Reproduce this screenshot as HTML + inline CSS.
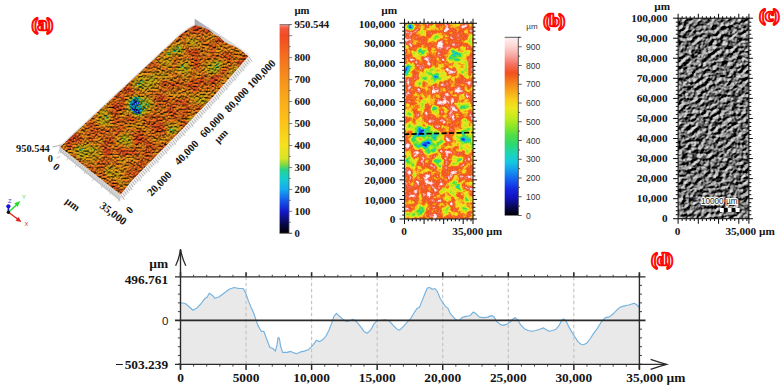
<!DOCTYPE html>
<html><head><meta charset="utf-8"><title>figure</title>
<style>
html,body{margin:0;padding:0;background:#fff;}
svg{display:block}
text{font-family:"Liberation Serif",serif;font-weight:bold;fill:#141414}
.sn{font-family:"Liberation Sans",sans-serif;font-weight:normal;fill:#333}
.lab{font-family:"Liberation Serif",serif;font-weight:bold;fill:#f00;stroke:#f00;stroke-width:2.6px;stroke-linejoin:round}
.lab2{font-family:"Liberation Serif",serif;font-weight:bold;fill:#fff;stroke:#f00;stroke-width:1.1px;stroke-linejoin:round}
</style></head><body>
<svg width="782" height="388" viewBox="0 0 782 388">
<rect x="0" y="0" width="782" height="388" fill="#fff"/>
<defs>
<linearGradient id="ga" x1="0" y1="0" x2="0" y2="1"><stop offset="0.0000" stop-color="rgb(250,150,140)"/><stop offset="0.0164" stop-color="rgb(244,90,60)"/><stop offset="0.0532" stop-color="rgb(243,74,32)"/><stop offset="0.1584" stop-color="rgb(245,112,30)"/><stop offset="0.2636" stop-color="rgb(247,145,28)"/><stop offset="0.3688" stop-color="rgb(250,172,26)"/><stop offset="0.4740" stop-color="rgb(252,196,25)"/><stop offset="0.5792" stop-color="rgb(245,225,28)"/><stop offset="0.6423" stop-color="rgb(215,228,38)"/><stop offset="0.6739" stop-color="rgb(120,215,70)"/><stop offset="0.6949" stop-color="rgb(40,210,140)"/><stop offset="0.7370" stop-color="rgb(20,205,205)"/><stop offset="0.7896" stop-color="rgb(20,170,240)"/><stop offset="0.8422" stop-color="rgb(20,90,235)"/><stop offset="0.8948" stop-color="rgb(20,25,205)"/><stop offset="0.9474" stop-color="rgb(10,10,90)"/><stop offset="1.0000" stop-color="rgb(0,0,0)"/></linearGradient>
<linearGradient id="gb" x1="0" y1="0" x2="0" y2="1"><stop offset="0.000" stop-color="rgb(255,240,240)"/><stop offset="0.050" stop-color="rgb(252,215,212)"/><stop offset="0.100" stop-color="rgb(248,170,165)"/><stop offset="0.150" stop-color="rgb(245,115,100)"/><stop offset="0.200" stop-color="rgb(242,80,30)"/><stop offset="0.250" stop-color="rgb(245,125,28)"/><stop offset="0.300" stop-color="rgb(247,165,28)"/><stop offset="0.350" stop-color="rgb(248,205,28)"/><stop offset="0.400" stop-color="rgb(235,232,30)"/><stop offset="0.450" stop-color="rgb(195,235,30)"/><stop offset="0.500" stop-color="rgb(140,230,40)"/><stop offset="0.550" stop-color="rgb(80,222,70)"/><stop offset="0.600" stop-color="rgb(45,216,110)"/><stop offset="0.650" stop-color="rgb(28,212,180)"/><stop offset="0.700" stop-color="rgb(22,200,225)"/><stop offset="0.750" stop-color="rgb(20,150,240)"/><stop offset="0.800" stop-color="rgb(20,95,238)"/><stop offset="0.850" stop-color="rgb(20,40,225)"/><stop offset="0.900" stop-color="rgb(18,18,190)"/><stop offset="0.950" stop-color="rgb(10,10,90)"/><stop offset="1.000" stop-color="rgb(0,0,0)"/></linearGradient>
<filter id="fa" filterUnits="userSpaceOnUse" x="50" y="5" width="210" height="205" color-interpolation-filters="sRGB">
<feTurbulence type="fractalNoise" baseFrequency="0.62" numOctaves="2" seed="7" result="n"/>
<feColorMatrix in="n" type="matrix" values="1 0 0 0 0  1 0 0 0 0  1 0 0 0 0  0 0 0 0 1" result="ng"/>
<feTurbulence type="fractalNoise" baseFrequency="0.09" numOctaves="2" seed="23" result="m"/>
<feColorMatrix in="m" type="matrix" values="1 0 0 0 0  1 0 0 0 0  1 0 0 0 0  0 0 0 0 1" result="mg"/>
<feComposite in="SourceGraphic" in2="ng" operator="arithmetic" k1="0" k2="1" k3="0.5" k4="-0.25" result="h0"/>
<feComposite in="h0" in2="mg" operator="arithmetic" k1="0" k2="1" k3="0.56" k4="-0.28" result="h"/>
<feComponentTransfer in="h" result="col">
<feFuncR type="table" tableValues="0.000 0.016 0.032 0.049 0.065 0.068 0.068 0.068 0.068 0.068 0.068 0.088 0.112 0.345 0.572 0.665 0.701 0.731 0.736 0.741 0.746 0.751 0.750 0.748 0.855 0.853 0.851 0.849 0.846 0.844 0.842 0.840 0.839 0.837 0.835 0.834 0.832 0.830 0.819 0.819 0.819"/><feFuncG type="table" tableValues="0.000 0.016 0.032 0.056 0.080 0.169 0.274 0.396 0.526 0.613 0.670 0.704 0.624 0.640 0.670 0.677 0.674 0.667 0.647 0.626 0.606 0.585 0.568 0.551 0.611 0.592 0.570 0.548 0.527 0.505 0.480 0.453 0.427 0.400 0.372 0.341 0.310 0.279 0.259 0.259 0.259"/><feFuncB type="table" tableValues="0.000 0.146 0.292 0.474 0.661 0.738 0.787 0.807 0.815 0.786 0.729 0.636 0.441 0.220 0.136 0.105 0.093 0.083 0.081 0.079 0.077 0.075 0.075 0.076 0.088 0.089 0.090 0.092 0.093 0.095 0.096 0.098 0.100 0.101 0.103 0.105 0.106 0.108 0.109 0.109 0.109"/>
</feComponentTransfer>
<feColorMatrix in="n" type="matrix" values="0 0 0 0 0  0 0 0 0 0  0 0 0 0 0  1 0 0 0 0" result="na"/>
<feDiffuseLighting in="na" surfaceScale="3.8" diffuseConstant="1.0" lighting-color="#fff" result="lit"><feDistantLight azimuth="260" elevation="50"/></feDiffuseLighting>
<feComposite in="col" in2="lit" operator="arithmetic" k1="0.98" k2="0.14" k3="0" k4="0" result="sh"/>
<feGaussianBlur in="sh" stdDeviation="0.45"/>
</filter>
<filter id="fb" filterUnits="userSpaceOnUse" x="400" y="20" width="80" height="205" color-interpolation-filters="sRGB">
<feTurbulence type="fractalNoise" baseFrequency="0.16" numOctaves="4" seed="11" result="n"/>
<feColorMatrix in="n" type="matrix" values="1 0 0 0 0  1 0 0 0 0  1 0 0 0 0  0 0 0 0 1" result="ng"/>
<feComposite in="SourceGraphic" in2="ng" operator="arithmetic" k1="0" k2="1" k3="0.74" k4="-0.37" result="h"/>
<feComponentTransfer in="h">
<feFuncR type="table" tableValues="0.000 0.022 0.042 0.060 0.072 0.076 0.078 0.078 0.078 0.078 0.082 0.087 0.100 0.119 0.155 0.208 0.284 0.392 0.521 0.625 0.716 0.795 0.861 0.923 0.945 0.966 0.971 0.969 0.964 0.958 0.956 0.953 0.950 0.951 0.954 0.957 0.964 0.972 0.982 0.992 1.000"/><feFuncG type="table" tableValues="0.000 0.022 0.042 0.060 0.087 0.135 0.220 0.339 0.457 0.575 0.684 0.786 0.812 0.833 0.842 0.853 0.865 0.881 0.898 0.909 0.917 0.919 0.914 0.906 0.862 0.817 0.757 0.665 0.555 0.455 0.412 0.368 0.325 0.339 0.373 0.407 0.509 0.656 0.778 0.873 0.940"/><feFuncB type="table" tableValues="0.000 0.194 0.391 0.607 0.772 0.847 0.897 0.925 0.936 0.941 0.912 0.876 0.779 0.669 0.518 0.395 0.309 0.236 0.171 0.143 0.127 0.118 0.118 0.117 0.114 0.111 0.110 0.110 0.110 0.111 0.113 0.115 0.117 0.168 0.236 0.304 0.461 0.634 0.763 0.865 0.940"/>
</feComponentTransfer>
</filter>
<filter id="fc" filterUnits="userSpaceOnUse" x="675" y="15" width="80" height="208" color-interpolation-filters="sRGB">
<feTurbulence type="fractalNoise" baseFrequency="0.2 0.25" numOctaves="4" seed="5" result="n"/>
<feDiffuseLighting in="n" surfaceScale="3.4" diffuseConstant="0.9" lighting-color="#fff" result="lit"><feDistantLight azimuth="225" elevation="31"/></feDiffuseLighting>
<feGaussianBlur in="lit" stdDeviation="0.4" result="lb"/>
<feComposite in="lb" in2="SourceGraphic" operator="in"/>
</filter>
<filter id="blur3" x="-50%" y="-50%" width="200%" height="200%"><feGaussianBlur stdDeviation="2.2"/></filter>
<filter id="blur2" x="-50%" y="-50%" width="200%" height="200%"><feGaussianBlur stdDeviation="1.5"/></filter>
<clipPath id="cpa"><polygon points="60,147 180,35 189,28.4 194.9,25.2 201,26.6 209,30 214,34.2 219.5,37 224,41.5 228.7,44 234,46 240,49.5 248.4,56.3 214,95.7 186.2,125.1 160,152 131.5,181 120.6,194.5"/></clipPath>
<clipPath id="cpb"><rect x="404.5" y="23.3" width="68.5" height="195.7"/></clipPath>
<clipPath id="cpc"><rect x="678.1" y="18.2" width="70.8" height="200.5"/></clipPath>
</defs>
<!-- panel a -->
<linearGradient id="gw" gradientUnits="userSpaceOnUse" x1="195" y1="22" x2="245" y2="54"><stop offset="0" stop-color="#a4a8b0"/><stop offset="0.45" stop-color="#cfd0d4"/><stop offset="1" stop-color="#ececec"/></linearGradient>
<polygon points="194.7,18.8 249.6,53.7 249.6,60 194.7,27" fill="url(#gw)"/>
<polyline points="59.5,146.5 180,34.3 189,27.7 194.8,24.6" fill="none" stroke="#d4d4d4" stroke-width="0.9"/>
<polygon points="60,143 120.6,193 120,200.8 60.5,151.8" fill="#dadada"/>
<polygon points="60.5,150.6 120,199.3 120,200.9 60.5,152" fill="#c6c6c6"/>
<polygon points="120.6,193 131.5,180 160,151 186.2,124.1 214,94.7 248.4,55.3 251,62.5 217.5,100 189.7,129.2 163.5,156 135,185 120,201.8" fill="#efefef"/>
<g clip-path="url(#cpa)"><g filter="url(#fa)">
<rect x="50" y="5" width="210" height="205" fill="rgb(205,205,205)"/>
<ellipse cx="139" cy="106" rx="13" ry="11" fill="rgb(107,107,107)" filter="url(#blur3)"/>
<ellipse cx="88" cy="152" rx="16" ry="9" fill="rgb(140,140,140)" filter="url(#blur3)"/>
<ellipse cx="103" cy="118" rx="9" ry="7" fill="rgb(117,117,117)" filter="url(#blur3)"/>
<ellipse cx="146" cy="83" rx="12" ry="8" fill="rgb(115,115,115)" filter="url(#blur3)"/>
<ellipse cx="184" cy="70" rx="9" ry="7" fill="rgb(115,115,115)" filter="url(#blur3)"/>
<ellipse cx="178" cy="49" rx="8" ry="6" fill="rgb(117,117,117)" filter="url(#blur3)"/>
<ellipse cx="194" cy="43.5" rx="7" ry="5" fill="rgb(122,122,122)" filter="url(#blur3)"/>
<ellipse cx="214" cy="66" rx="9" ry="7" fill="rgb(112,112,112)" filter="url(#blur3)"/>
<ellipse cx="165" cy="61" rx="8" ry="6" fill="rgb(117,117,117)" filter="url(#blur3)"/>
<ellipse cx="160" cy="77" rx="7" ry="5" fill="rgb(122,122,122)" filter="url(#blur3)"/>
<ellipse cx="172" cy="128" rx="7" ry="6" fill="rgb(112,112,112)" filter="url(#blur3)"/>
<ellipse cx="115" cy="172" rx="10" ry="7" fill="rgb(122,122,122)" filter="url(#blur3)"/>
<ellipse cx="236" cy="72" rx="7" ry="6" fill="rgb(117,117,117)" filter="url(#blur3)"/>
<ellipse cx="200" cy="100" rx="8" ry="6" fill="rgb(128,128,128)" filter="url(#blur3)"/>
<ellipse cx="125" cy="140" rx="9" ry="6" fill="rgb(128,128,128)" filter="url(#blur3)"/>
<ellipse cx="137" cy="106" rx="8" ry="9" fill="rgb(76,76,76)" filter="url(#blur3)"/>
<ellipse cx="136.8" cy="101.2" rx="4.6" ry="3.8" fill="rgb(33,33,33)" filter="url(#blur2)"/>
<ellipse cx="135.3" cy="111.3" rx="3.8" ry="3.2" fill="rgb(33,33,33)" filter="url(#blur2)"/>
<ellipse cx="172.5" cy="129.6" rx="2.6" ry="2.2" fill="rgb(76,76,76)" filter="url(#blur2)"/>
<ellipse cx="168" cy="53.8" rx="2.6" ry="2.2" fill="rgb(76,76,76)" filter="url(#blur2)"/>
<ellipse cx="186" cy="70.6" rx="2.6" ry="2.2" fill="rgb(76,76,76)" filter="url(#blur2)"/>
<ellipse cx="214.4" cy="71.9" rx="2.6" ry="2.2" fill="rgb(76,76,76)" filter="url(#blur2)"/>
<ellipse cx="190" cy="120" rx="2.6" ry="2.2" fill="rgb(82,82,82)" filter="url(#blur2)"/>
</g></g>
<line x1="121.2" y1="195.2" x2="124.4" y2="199.7" stroke="#9c9c9c" stroke-width="0.75"/>
<line x1="122.8" y1="193.2" x2="125.2" y2="196.7" stroke="#9c9c9c" stroke-width="0.75"/>
<line x1="124.4" y1="191.3" x2="126.8" y2="194.7" stroke="#9c9c9c" stroke-width="0.75"/>
<line x1="125.9" y1="189.3" x2="128.4" y2="192.8" stroke="#9c9c9c" stroke-width="0.75"/>
<line x1="127.5" y1="187.4" x2="129.9" y2="190.8" stroke="#9c9c9c" stroke-width="0.75"/>
<line x1="129.1" y1="185.4" x2="132.3" y2="190.0" stroke="#9c9c9c" stroke-width="0.75"/>
<line x1="130.7" y1="183.5" x2="133.1" y2="186.9" stroke="#9c9c9c" stroke-width="0.75"/>
<line x1="132.3" y1="181.5" x2="134.7" y2="185.0" stroke="#9c9c9c" stroke-width="0.75"/>
<line x1="134.0" y1="179.7" x2="136.4" y2="183.2" stroke="#9c9c9c" stroke-width="0.75"/>
<line x1="135.8" y1="178.0" x2="138.2" y2="181.4" stroke="#9c9c9c" stroke-width="0.75"/>
<line x1="137.5" y1="176.2" x2="140.7" y2="180.7" stroke="#9c9c9c" stroke-width="0.75"/>
<line x1="139.3" y1="174.4" x2="141.7" y2="177.8" stroke="#9c9c9c" stroke-width="0.75"/>
<line x1="141.1" y1="172.6" x2="143.5" y2="176.0" stroke="#9c9c9c" stroke-width="0.75"/>
<line x1="142.8" y1="170.8" x2="145.2" y2="174.2" stroke="#9c9c9c" stroke-width="0.75"/>
<line x1="144.6" y1="169.0" x2="147.0" y2="172.4" stroke="#9c9c9c" stroke-width="0.75"/>
<line x1="146.3" y1="167.2" x2="149.5" y2="171.7" stroke="#9c9c9c" stroke-width="0.75"/>
<line x1="148.1" y1="165.4" x2="150.5" y2="168.9" stroke="#9c9c9c" stroke-width="0.75"/>
<line x1="149.9" y1="163.6" x2="152.3" y2="167.1" stroke="#9c9c9c" stroke-width="0.75"/>
<line x1="151.6" y1="161.8" x2="154.0" y2="165.3" stroke="#9c9c9c" stroke-width="0.75"/>
<line x1="153.4" y1="160.0" x2="155.8" y2="163.5" stroke="#9c9c9c" stroke-width="0.75"/>
<line x1="155.1" y1="158.3" x2="158.3" y2="162.8" stroke="#9c9c9c" stroke-width="0.75"/>
<line x1="156.9" y1="156.5" x2="159.3" y2="159.9" stroke="#9c9c9c" stroke-width="0.75"/>
<line x1="158.7" y1="154.7" x2="161.1" y2="158.1" stroke="#9c9c9c" stroke-width="0.75"/>
<line x1="160.4" y1="152.9" x2="162.8" y2="156.3" stroke="#9c9c9c" stroke-width="0.75"/>
<line x1="162.2" y1="151.1" x2="164.6" y2="154.5" stroke="#9c9c9c" stroke-width="0.75"/>
<line x1="163.9" y1="149.3" x2="167.1" y2="153.8" stroke="#9c9c9c" stroke-width="0.75"/>
<line x1="165.7" y1="147.5" x2="168.1" y2="150.9" stroke="#9c9c9c" stroke-width="0.75"/>
<line x1="167.4" y1="145.7" x2="169.8" y2="149.1" stroke="#9c9c9c" stroke-width="0.75"/>
<line x1="169.2" y1="143.9" x2="171.6" y2="147.3" stroke="#9c9c9c" stroke-width="0.75"/>
<line x1="170.9" y1="142.1" x2="173.4" y2="145.5" stroke="#9c9c9c" stroke-width="0.75"/>
<line x1="172.7" y1="140.3" x2="175.9" y2="144.8" stroke="#9c9c9c" stroke-width="0.75"/>
<line x1="174.4" y1="138.5" x2="176.9" y2="141.9" stroke="#9c9c9c" stroke-width="0.75"/>
<line x1="176.2" y1="136.7" x2="178.6" y2="140.1" stroke="#9c9c9c" stroke-width="0.75"/>
<line x1="177.9" y1="134.9" x2="180.4" y2="138.3" stroke="#9c9c9c" stroke-width="0.75"/>
<line x1="179.7" y1="133.1" x2="182.1" y2="136.5" stroke="#9c9c9c" stroke-width="0.75"/>
<line x1="181.4" y1="131.3" x2="184.6" y2="135.8" stroke="#9c9c9c" stroke-width="0.75"/>
<line x1="183.2" y1="129.5" x2="185.6" y2="132.9" stroke="#9c9c9c" stroke-width="0.75"/>
<line x1="184.9" y1="127.7" x2="187.4" y2="131.1" stroke="#9c9c9c" stroke-width="0.75"/>
<line x1="186.7" y1="125.9" x2="189.1" y2="129.3" stroke="#9c9c9c" stroke-width="0.75"/>
<line x1="188.4" y1="124.1" x2="190.8" y2="127.5" stroke="#9c9c9c" stroke-width="0.75"/>
<line x1="190.2" y1="122.3" x2="193.3" y2="126.8" stroke="#9c9c9c" stroke-width="0.75"/>
<line x1="191.9" y1="120.4" x2="194.3" y2="123.9" stroke="#9c9c9c" stroke-width="0.75"/>
<line x1="193.6" y1="118.6" x2="196.0" y2="122.0" stroke="#9c9c9c" stroke-width="0.75"/>
<line x1="195.3" y1="116.8" x2="197.7" y2="120.2" stroke="#9c9c9c" stroke-width="0.75"/>
<line x1="197.1" y1="115.0" x2="199.5" y2="118.4" stroke="#9c9c9c" stroke-width="0.75"/>
<line x1="198.8" y1="113.1" x2="202.0" y2="117.7" stroke="#9c9c9c" stroke-width="0.75"/>
<line x1="200.5" y1="111.3" x2="202.9" y2="114.7" stroke="#9c9c9c" stroke-width="0.75"/>
<line x1="202.2" y1="109.5" x2="204.6" y2="112.9" stroke="#9c9c9c" stroke-width="0.75"/>
<line x1="204.0" y1="107.7" x2="206.4" y2="111.1" stroke="#9c9c9c" stroke-width="0.75"/>
<line x1="205.7" y1="105.8" x2="208.1" y2="109.3" stroke="#9c9c9c" stroke-width="0.75"/>
<line x1="207.4" y1="104.0" x2="210.6" y2="108.5" stroke="#9c9c9c" stroke-width="0.75"/>
<line x1="209.1" y1="102.2" x2="211.6" y2="105.6" stroke="#9c9c9c" stroke-width="0.75"/>
<line x1="210.9" y1="100.4" x2="213.3" y2="103.8" stroke="#9c9c9c" stroke-width="0.75"/>
<line x1="212.6" y1="98.5" x2="215.0" y2="102.0" stroke="#9c9c9c" stroke-width="0.75"/>
<line x1="214.3" y1="96.7" x2="216.7" y2="100.1" stroke="#9c9c9c" stroke-width="0.75"/>
<line x1="216.0" y1="94.8" x2="219.2" y2="99.4" stroke="#9c9c9c" stroke-width="0.75"/>
<line x1="217.6" y1="92.9" x2="220.0" y2="96.4" stroke="#9c9c9c" stroke-width="0.75"/>
<line x1="219.3" y1="91.0" x2="221.7" y2="94.5" stroke="#9c9c9c" stroke-width="0.75"/>
<line x1="220.9" y1="89.2" x2="223.3" y2="92.6" stroke="#9c9c9c" stroke-width="0.75"/>
<line x1="222.6" y1="87.3" x2="225.0" y2="90.7" stroke="#9c9c9c" stroke-width="0.75"/>
<line x1="224.2" y1="85.4" x2="227.4" y2="89.9" stroke="#9c9c9c" stroke-width="0.75"/>
<line x1="225.9" y1="83.5" x2="228.3" y2="86.9" stroke="#9c9c9c" stroke-width="0.75"/>
<line x1="227.5" y1="81.6" x2="230.0" y2="85.0" stroke="#9c9c9c" stroke-width="0.75"/>
<line x1="229.2" y1="79.7" x2="231.6" y2="83.1" stroke="#9c9c9c" stroke-width="0.75"/>
<line x1="230.8" y1="77.8" x2="233.3" y2="81.2" stroke="#9c9c9c" stroke-width="0.75"/>
<line x1="232.5" y1="75.9" x2="235.7" y2="80.4" stroke="#9c9c9c" stroke-width="0.75"/>
<line x1="234.1" y1="74.0" x2="236.6" y2="77.5" stroke="#9c9c9c" stroke-width="0.75"/>
<line x1="235.8" y1="72.1" x2="238.2" y2="75.6" stroke="#9c9c9c" stroke-width="0.75"/>
<line x1="237.4" y1="70.2" x2="239.9" y2="73.7" stroke="#9c9c9c" stroke-width="0.75"/>
<line x1="239.1" y1="68.3" x2="241.5" y2="71.8" stroke="#9c9c9c" stroke-width="0.75"/>
<line x1="240.7" y1="66.5" x2="243.9" y2="71.0" stroke="#9c9c9c" stroke-width="0.75"/>
<line x1="242.4" y1="64.6" x2="244.8" y2="68.0" stroke="#9c9c9c" stroke-width="0.75"/>
<line x1="244.0" y1="62.7" x2="246.5" y2="66.1" stroke="#9c9c9c" stroke-width="0.75"/>
<line x1="245.7" y1="60.8" x2="248.1" y2="64.2" stroke="#9c9c9c" stroke-width="0.75"/>
<line x1="247.3" y1="58.9" x2="249.8" y2="62.3" stroke="#9c9c9c" stroke-width="0.75"/>
<line x1="249.0" y1="57.0" x2="252.2" y2="61.5" stroke="#9c9c9c" stroke-width="0.75"/>
<line x1="60.5" y1="148.0" x2="58.2" y2="153.5" stroke="#b5b5b5" stroke-width="0.7"/>
<line x1="62.2" y1="149.4" x2="60.8" y2="152.8" stroke="#b5b5b5" stroke-width="0.7"/>
<line x1="63.9" y1="150.7" x2="62.5" y2="154.1" stroke="#b5b5b5" stroke-width="0.7"/>
<line x1="65.7" y1="152.1" x2="64.3" y2="155.5" stroke="#b5b5b5" stroke-width="0.7"/>
<line x1="67.4" y1="153.5" x2="66.0" y2="156.9" stroke="#b5b5b5" stroke-width="0.7"/>
<line x1="69.1" y1="154.9" x2="66.8" y2="160.4" stroke="#b5b5b5" stroke-width="0.7"/>
<line x1="70.8" y1="156.2" x2="69.4" y2="159.6" stroke="#b5b5b5" stroke-width="0.7"/>
<line x1="72.5" y1="157.6" x2="71.1" y2="161.0" stroke="#b5b5b5" stroke-width="0.7"/>
<line x1="74.2" y1="159.0" x2="72.8" y2="162.4" stroke="#b5b5b5" stroke-width="0.7"/>
<line x1="76.0" y1="160.3" x2="74.6" y2="163.7" stroke="#b5b5b5" stroke-width="0.7"/>
<line x1="77.7" y1="161.7" x2="75.4" y2="167.2" stroke="#b5b5b5" stroke-width="0.7"/>
<line x1="79.4" y1="163.1" x2="78.0" y2="166.5" stroke="#b5b5b5" stroke-width="0.7"/>
<line x1="81.1" y1="164.5" x2="79.7" y2="167.9" stroke="#b5b5b5" stroke-width="0.7"/>
<line x1="82.8" y1="165.8" x2="81.4" y2="169.2" stroke="#b5b5b5" stroke-width="0.7"/>
<line x1="84.5" y1="167.2" x2="83.1" y2="170.6" stroke="#b5b5b5" stroke-width="0.7"/>
<line x1="86.3" y1="168.6" x2="84.0" y2="174.1" stroke="#b5b5b5" stroke-width="0.7"/>
<line x1="88.0" y1="169.9" x2="86.6" y2="173.3" stroke="#b5b5b5" stroke-width="0.7"/>
<line x1="89.7" y1="171.3" x2="88.3" y2="174.7" stroke="#b5b5b5" stroke-width="0.7"/>
<line x1="91.4" y1="172.7" x2="90.0" y2="176.1" stroke="#b5b5b5" stroke-width="0.7"/>
<line x1="93.1" y1="174.1" x2="91.7" y2="177.5" stroke="#b5b5b5" stroke-width="0.7"/>
<line x1="94.8" y1="175.4" x2="92.6" y2="181.0" stroke="#b5b5b5" stroke-width="0.7"/>
<line x1="96.6" y1="176.8" x2="95.2" y2="180.2" stroke="#b5b5b5" stroke-width="0.7"/>
<line x1="98.3" y1="178.2" x2="96.9" y2="181.6" stroke="#b5b5b5" stroke-width="0.7"/>
<line x1="100.0" y1="179.5" x2="98.6" y2="182.9" stroke="#b5b5b5" stroke-width="0.7"/>
<line x1="101.7" y1="180.9" x2="100.3" y2="184.3" stroke="#b5b5b5" stroke-width="0.7"/>
<line x1="103.4" y1="182.3" x2="101.2" y2="187.8" stroke="#b5b5b5" stroke-width="0.7"/>
<line x1="105.1" y1="183.7" x2="103.7" y2="187.1" stroke="#b5b5b5" stroke-width="0.7"/>
<line x1="106.9" y1="185.0" x2="105.5" y2="188.4" stroke="#b5b5b5" stroke-width="0.7"/>
<line x1="108.6" y1="186.4" x2="107.2" y2="189.8" stroke="#b5b5b5" stroke-width="0.7"/>
<line x1="110.3" y1="187.8" x2="108.9" y2="191.2" stroke="#b5b5b5" stroke-width="0.7"/>
<line x1="112.0" y1="189.1" x2="109.7" y2="194.7" stroke="#b5b5b5" stroke-width="0.7"/>
<line x1="113.7" y1="190.5" x2="112.3" y2="193.9" stroke="#b5b5b5" stroke-width="0.7"/>
<line x1="115.4" y1="191.9" x2="114.0" y2="195.3" stroke="#b5b5b5" stroke-width="0.7"/>
<line x1="117.2" y1="193.3" x2="115.8" y2="196.7" stroke="#b5b5b5" stroke-width="0.7"/>
<line x1="118.9" y1="194.6" x2="117.5" y2="198.0" stroke="#b5b5b5" stroke-width="0.7"/>
<line x1="120.6" y1="196.0" x2="118.3" y2="201.5" stroke="#b5b5b5" stroke-width="0.7"/>
<line x1="52.3" y1="147" x2="60" y2="145.2" stroke="#a0a0a0" stroke-width="0.8"/>
<line x1="56.6" y1="158.2" x2="60.3" y2="156.4" stroke="#b0b0b0" stroke-width="0.8"/>
<line x1="60" y1="144.6" x2="60.3" y2="153.4" stroke="#b8b8b8" stroke-width="0.9"/>
<text x="49.8" y="152.2" font-size="10.4" text-anchor="end">950.544</text>
<text x="50.3" y="162.4" font-size="10.4" text-anchor="middle">0</text>
<text x="0" y="0" font-size="10.4" text-anchor="middle" transform="translate(56.4,166.6) rotate(40)" dy="0.34em" >0</text>
<text x="0" y="0" font-size="10.6" text-anchor="middle" transform="translate(72.7,204.2) rotate(37)" dy="0.34em" >&#181;m</text>
<text x="0" y="0" font-size="11" text-anchor="middle" transform="translate(113.4,213.4) rotate(37)" dy="0.34em" >35,000</text>
<text x="0" y="0" font-size="10.4" text-anchor="middle" transform="translate(129.5,209.9) rotate(-46)" dy="0.34em" >0</text>
<text x="0" y="0" font-size="10.8" text-anchor="middle" transform="translate(159.2,183.6) rotate(-46)" dy="0.34em" >20,000</text>
<text x="0" y="0" font-size="10.8" text-anchor="middle" transform="translate(186.4,152.6) rotate(-46)" dy="0.34em" >40,000</text>
<text x="0" y="0" font-size="10.8" text-anchor="middle" transform="translate(212,125) rotate(-46)" dy="0.34em" >60,000</text>
<text x="0" y="0" font-size="10.4" text-anchor="middle" transform="translate(221,136) rotate(-46)" dy="0.34em" >&#181;m</text>
<text x="0" y="0" font-size="10.8" text-anchor="middle" transform="translate(236.6,99.7) rotate(-46)" dy="0.34em" >80,000</text>
<text x="0" y="0" font-size="10.8" text-anchor="middle" transform="translate(261.3,73.8) rotate(-46)" dy="0.34em" >100,000</text>
<g stroke-linecap="round">
<line x1="8.4" y1="212.3" x2="8.4" y2="206.3" stroke="#1414e0" stroke-width="1.6"/>
<line x1="8.4" y1="212.3" x2="17" y2="204.5" stroke="#22dd22" stroke-width="1.4"/>
<polygon points="20.3,200.9 14.3,203.2 17.6,206.8" fill="#22dd22"/>
<line x1="8.4" y1="212.3" x2="18" y2="219.2" stroke="#e02020" stroke-width="1.4"/>
<polygon points="21.6,221.9 15.6,220.8 18.4,216.9" fill="#e02020"/>
<circle cx="8.4" cy="206.3" r="2.1" fill="#1414e0"/>
<circle cx="8.4" cy="212.3" r="1.7" fill="#101018"/>
</g>
<text class="sn" x="7.9" y="202.6" font-size="5.8" style="fill:#5040c0">Z</text>
<text class="sn" x="21.9" y="199.3" font-size="5.8" style="fill:#44cc44">Y</text>
<text class="sn" x="24.5" y="226.4" font-size="5.8" style="fill:#d03040">X</text>
<rect x="279.6" y="24.6" width="9.4" height="208.7" fill="url(#ga)"/>
<g stroke="#555" stroke-width="0.75" fill="none">
<line x1="289" y1="24.6" x2="289" y2="233.3"/>
<line x1="279.6" y1="24.6" x2="292" y2="24.6"/>
<line x1="279.6" y1="233.3" x2="292" y2="233.3"/>
<line x1="289" y1="233.30" x2="292.2" y2="233.30"/>
<line x1="289" y1="222.32" x2="290.8" y2="222.32"/>
<line x1="289" y1="211.34" x2="292.2" y2="211.34"/>
<line x1="289" y1="200.37" x2="290.8" y2="200.37"/>
<line x1="289" y1="189.39" x2="292.2" y2="189.39"/>
<line x1="289" y1="178.41" x2="290.8" y2="178.41"/>
<line x1="289" y1="167.43" x2="292.2" y2="167.43"/>
<line x1="289" y1="156.45" x2="290.8" y2="156.45"/>
<line x1="289" y1="145.48" x2="292.2" y2="145.48"/>
<line x1="289" y1="134.50" x2="290.8" y2="134.50"/>
<line x1="289" y1="123.52" x2="292.2" y2="123.52"/>
<line x1="289" y1="112.54" x2="290.8" y2="112.54"/>
<line x1="289" y1="101.56" x2="292.2" y2="101.56"/>
<line x1="289" y1="90.59" x2="290.8" y2="90.59"/>
<line x1="289" y1="79.61" x2="292.2" y2="79.61"/>
<line x1="289" y1="68.63" x2="290.8" y2="68.63"/>
<line x1="289" y1="57.65" x2="292.2" y2="57.65"/>
<line x1="289" y1="46.68" x2="290.8" y2="46.68"/>
<line x1="289" y1="35.70" x2="292.2" y2="35.70"/>
<line x1="289" y1="24.72" x2="290.8" y2="24.72"/>
</g>
<text x="294.4" y="236.90" font-size="10.7">0</text>
<text x="294.4" y="214.94" font-size="10.7">100</text>
<text x="294.4" y="192.99" font-size="10.7">200</text>
<text x="294.4" y="171.03" font-size="10.7">300</text>
<text x="294.4" y="149.08" font-size="10.7">400</text>
<text x="294.4" y="127.12" font-size="10.7">500</text>
<text x="294.4" y="105.16" font-size="10.7">600</text>
<text x="294.4" y="83.21" font-size="10.7">700</text>
<text x="294.4" y="61.25" font-size="10.7">800</text>
<text x="294.4" y="27.7" font-size="10.7">950.544</text>
<text x="294.4" y="13.8" font-size="10.7">&#181;m</text>
<text class="lab" x="31.94" y="29.8"><tspan font-size="17.3">(</tspan><tspan font-size="18.8">a</tspan><tspan font-size="17.3">)</tspan></text>
<text class="lab2" x="31.94" y="29.8"><tspan font-size="17.3">(</tspan><tspan font-size="18.8">a</tspan><tspan font-size="17.3">)</tspan></text>
<!-- panel b -->
<g clip-path="url(#cpb)"><g filter="url(#fb)">
<rect x="400" y="20" width="80" height="205" fill="rgb(203,203,203)"/>
<ellipse cx="436.4" cy="37.5" rx="6" ry="5" fill="rgb(143,143,143)" filter="url(#blur3)"/>
<ellipse cx="421" cy="52" rx="8" ry="5" fill="rgb(136,136,136)" filter="url(#blur3)"/>
<ellipse cx="457" cy="57" rx="11" ry="10" fill="rgb(136,136,136)" filter="url(#blur3)"/>
<ellipse cx="408" cy="71" rx="5" ry="7" fill="rgb(117,117,117)" filter="url(#blur3)"/>
<ellipse cx="434" cy="76" rx="13" ry="9" fill="rgb(136,136,136)" filter="url(#blur3)"/>
<ellipse cx="423" cy="82" rx="8" ry="5" fill="rgb(149,149,149)" filter="url(#blur3)"/>
<ellipse cx="463" cy="70" rx="7" ry="7" fill="rgb(152,152,152)" filter="url(#blur3)"/>
<ellipse cx="424" cy="101" rx="8" ry="6" fill="rgb(146,146,146)" filter="url(#blur3)"/>
<ellipse cx="435" cy="110" rx="4" ry="3.5" fill="rgb(124,124,124)" filter="url(#blur2)"/>
<ellipse cx="464" cy="106" rx="7" ry="7" fill="rgb(133,133,133)" filter="url(#blur3)"/>
<ellipse cx="409" cy="110" rx="6" ry="6" fill="rgb(146,146,146)" filter="url(#blur3)"/>
<ellipse cx="414" cy="125" rx="10" ry="7" fill="rgb(143,143,143)" filter="url(#blur3)"/>
<ellipse cx="427" cy="140" rx="17" ry="13" fill="rgb(112,112,112)" filter="url(#blur3)"/>
<ellipse cx="465" cy="138" rx="11" ry="15" fill="rgb(124,124,124)" filter="url(#blur3)"/>
<ellipse cx="409" cy="162" rx="6" ry="6" fill="rgb(136,136,136)" filter="url(#blur3)"/>
<ellipse cx="438" cy="162" rx="6" ry="6" fill="rgb(136,136,136)" filter="url(#blur3)"/>
<ellipse cx="458" cy="160" rx="5" ry="5" fill="rgb(143,143,143)" filter="url(#blur3)"/>
<ellipse cx="416" cy="170" rx="7" ry="6" fill="rgb(152,152,152)" filter="url(#blur3)"/>
<ellipse cx="456.6" cy="185" rx="6" ry="6" fill="rgb(136,136,136)" filter="url(#blur3)"/>
<ellipse cx="452" cy="193" rx="11" ry="9" fill="rgb(154,154,154)" filter="url(#blur3)"/>
<ellipse cx="469" cy="197.5" rx="5" ry="5" fill="rgb(136,136,136)" filter="url(#blur3)"/>
<ellipse cx="461" cy="207" rx="8" ry="7" fill="rgb(152,152,152)" filter="url(#blur3)"/>
<ellipse cx="419.5" cy="210" rx="8" ry="6" fill="rgb(130,130,130)" filter="url(#blur3)"/>
<ellipse cx="445.7" cy="210" rx="5" ry="5" fill="rgb(143,143,143)" filter="url(#blur3)"/>
<ellipse cx="410" cy="215" rx="6" ry="5" fill="rgb(152,152,152)" filter="url(#blur3)"/>
<ellipse cx="470" cy="40" rx="4" ry="9" fill="rgb(152,152,152)" filter="url(#blur3)"/>
<ellipse cx="411" cy="26.5" rx="4" ry="3" fill="rgb(115,115,115)" filter="url(#blur2)"/>
<ellipse cx="455" cy="25" rx="8" ry="3" fill="rgb(156,156,156)" filter="url(#blur3)"/>
<ellipse cx="425" cy="30" rx="5" ry="4" fill="rgb(156,156,156)" filter="url(#blur3)"/>
<ellipse cx="411" cy="26.5" rx="2.4" ry="1.8" fill="rgb(42,42,42)" filter="url(#blur2)"/>
<ellipse cx="436.4" cy="37.5" rx="2.6" ry="2.2" fill="rgb(88,88,88)" filter="url(#blur2)"/>
<ellipse cx="421" cy="52" rx="4.5" ry="2.6" fill="rgb(83,83,83)" filter="url(#blur2)"/>
<ellipse cx="457" cy="56.5" rx="4.5" ry="4" fill="rgb(86,86,86)" filter="url(#blur2)"/>
<ellipse cx="407" cy="70.5" rx="3.2" ry="4.6" fill="rgb(27,27,27)" filter="url(#blur2)"/>
<ellipse cx="435" cy="75" rx="4.5" ry="3.6" fill="rgb(83,83,83)" filter="url(#blur2)"/>
<ellipse cx="435" cy="109.7" rx="2" ry="2" fill="rgb(32,32,32)" filter="url(#blur2)"/>
<ellipse cx="464.5" cy="106" rx="3.2" ry="3.2" fill="rgb(88,88,88)" filter="url(#blur2)"/>
<ellipse cx="421" cy="132.5" rx="4.2" ry="3.6" fill="rgb(29,29,29)" filter="url(#blur2)"/>
<ellipse cx="426.5" cy="143.5" rx="4.6" ry="3.6" fill="rgb(34,34,34)" filter="url(#blur2)"/>
<ellipse cx="464.5" cy="137" rx="4" ry="6" fill="rgb(90,90,90)" filter="url(#blur2)"/>
<ellipse cx="409" cy="162" rx="3.3" ry="3.3" fill="rgb(90,90,90)" filter="url(#blur2)"/>
<ellipse cx="438" cy="162" rx="3.3" ry="3.3" fill="rgb(90,90,90)" filter="url(#blur2)"/>
<ellipse cx="456.6" cy="185" rx="3.3" ry="3.3" fill="rgb(93,93,93)" filter="url(#blur2)"/>
<ellipse cx="419.5" cy="210" rx="4" ry="3.2" fill="rgb(93,93,93)" filter="url(#blur2)"/>
<ellipse cx="458" cy="160" rx="2.6" ry="2.6" fill="rgb(98,98,98)" filter="url(#blur2)"/>
<ellipse cx="469" cy="197.5" rx="2.6" ry="2.6" fill="rgb(98,98,98)" filter="url(#blur2)"/>
<ellipse cx="445.7" cy="210" rx="2.6" ry="2.6" fill="rgb(100,100,100)" filter="url(#blur2)"/>
<ellipse cx="441" cy="45" rx="5" ry="4" fill="rgb(228,228,228)" filter="url(#blur3)"/>
<ellipse cx="452" cy="33" rx="4" ry="3" fill="rgb(227,227,227)" filter="url(#blur3)"/>
<ellipse cx="446" cy="100" rx="5" ry="4" fill="rgb(228,228,228)" filter="url(#blur3)"/>
<ellipse cx="452" cy="113" rx="4" ry="4" fill="rgb(227,227,227)" filter="url(#blur3)"/>
<ellipse cx="424" cy="181" rx="8" ry="6" fill="rgb(228,228,228)" filter="url(#blur3)"/>
<ellipse cx="429" cy="195" rx="5" ry="5" fill="rgb(228,228,228)" filter="url(#blur3)"/>
<ellipse cx="418" cy="153" rx="4" ry="3" fill="rgb(226,226,226)" filter="url(#blur3)"/>
</g></g>
<g stroke="#141414" stroke-width="1.05" fill="none">
<rect x="404.5" y="23.3" width="68.5" height="195.7"/>
<line x1="399.50" y1="219.00" x2="404.50" y2="219.00"/>
<line x1="473.00" y1="219.00" x2="477.00" y2="219.00"/>
<line x1="402.20" y1="215.09" x2="404.50" y2="215.09"/>
<line x1="473.00" y1="215.09" x2="475.40" y2="215.09"/>
<line x1="402.20" y1="211.17" x2="404.50" y2="211.17"/>
<line x1="473.00" y1="211.17" x2="475.40" y2="211.17"/>
<line x1="402.20" y1="207.26" x2="404.50" y2="207.26"/>
<line x1="473.00" y1="207.26" x2="475.40" y2="207.26"/>
<line x1="402.20" y1="203.34" x2="404.50" y2="203.34"/>
<line x1="473.00" y1="203.34" x2="475.40" y2="203.34"/>
<line x1="399.50" y1="199.43" x2="404.50" y2="199.43"/>
<line x1="473.00" y1="199.43" x2="477.00" y2="199.43"/>
<line x1="402.20" y1="195.52" x2="404.50" y2="195.52"/>
<line x1="473.00" y1="195.52" x2="475.40" y2="195.52"/>
<line x1="402.20" y1="191.60" x2="404.50" y2="191.60"/>
<line x1="473.00" y1="191.60" x2="475.40" y2="191.60"/>
<line x1="402.20" y1="187.69" x2="404.50" y2="187.69"/>
<line x1="473.00" y1="187.69" x2="475.40" y2="187.69"/>
<line x1="402.20" y1="183.77" x2="404.50" y2="183.77"/>
<line x1="473.00" y1="183.77" x2="475.40" y2="183.77"/>
<line x1="399.50" y1="179.86" x2="404.50" y2="179.86"/>
<line x1="473.00" y1="179.86" x2="477.00" y2="179.86"/>
<line x1="402.20" y1="175.95" x2="404.50" y2="175.95"/>
<line x1="473.00" y1="175.95" x2="475.40" y2="175.95"/>
<line x1="402.20" y1="172.03" x2="404.50" y2="172.03"/>
<line x1="473.00" y1="172.03" x2="475.40" y2="172.03"/>
<line x1="402.20" y1="168.12" x2="404.50" y2="168.12"/>
<line x1="473.00" y1="168.12" x2="475.40" y2="168.12"/>
<line x1="402.20" y1="164.20" x2="404.50" y2="164.20"/>
<line x1="473.00" y1="164.20" x2="475.40" y2="164.20"/>
<line x1="399.50" y1="160.29" x2="404.50" y2="160.29"/>
<line x1="473.00" y1="160.29" x2="477.00" y2="160.29"/>
<line x1="402.20" y1="156.38" x2="404.50" y2="156.38"/>
<line x1="473.00" y1="156.38" x2="475.40" y2="156.38"/>
<line x1="402.20" y1="152.46" x2="404.50" y2="152.46"/>
<line x1="473.00" y1="152.46" x2="475.40" y2="152.46"/>
<line x1="402.20" y1="148.55" x2="404.50" y2="148.55"/>
<line x1="473.00" y1="148.55" x2="475.40" y2="148.55"/>
<line x1="402.20" y1="144.63" x2="404.50" y2="144.63"/>
<line x1="473.00" y1="144.63" x2="475.40" y2="144.63"/>
<line x1="399.50" y1="140.72" x2="404.50" y2="140.72"/>
<line x1="473.00" y1="140.72" x2="477.00" y2="140.72"/>
<line x1="402.20" y1="136.81" x2="404.50" y2="136.81"/>
<line x1="473.00" y1="136.81" x2="475.40" y2="136.81"/>
<line x1="402.20" y1="132.89" x2="404.50" y2="132.89"/>
<line x1="473.00" y1="132.89" x2="475.40" y2="132.89"/>
<line x1="402.20" y1="128.98" x2="404.50" y2="128.98"/>
<line x1="473.00" y1="128.98" x2="475.40" y2="128.98"/>
<line x1="402.20" y1="125.06" x2="404.50" y2="125.06"/>
<line x1="473.00" y1="125.06" x2="475.40" y2="125.06"/>
<line x1="399.50" y1="121.15" x2="404.50" y2="121.15"/>
<line x1="473.00" y1="121.15" x2="477.00" y2="121.15"/>
<line x1="402.20" y1="117.24" x2="404.50" y2="117.24"/>
<line x1="473.00" y1="117.24" x2="475.40" y2="117.24"/>
<line x1="402.20" y1="113.32" x2="404.50" y2="113.32"/>
<line x1="473.00" y1="113.32" x2="475.40" y2="113.32"/>
<line x1="402.20" y1="109.41" x2="404.50" y2="109.41"/>
<line x1="473.00" y1="109.41" x2="475.40" y2="109.41"/>
<line x1="402.20" y1="105.49" x2="404.50" y2="105.49"/>
<line x1="473.00" y1="105.49" x2="475.40" y2="105.49"/>
<line x1="399.50" y1="101.58" x2="404.50" y2="101.58"/>
<line x1="473.00" y1="101.58" x2="477.00" y2="101.58"/>
<line x1="402.20" y1="97.67" x2="404.50" y2="97.67"/>
<line x1="473.00" y1="97.67" x2="475.40" y2="97.67"/>
<line x1="402.20" y1="93.75" x2="404.50" y2="93.75"/>
<line x1="473.00" y1="93.75" x2="475.40" y2="93.75"/>
<line x1="402.20" y1="89.84" x2="404.50" y2="89.84"/>
<line x1="473.00" y1="89.84" x2="475.40" y2="89.84"/>
<line x1="402.20" y1="85.92" x2="404.50" y2="85.92"/>
<line x1="473.00" y1="85.92" x2="475.40" y2="85.92"/>
<line x1="399.50" y1="82.01" x2="404.50" y2="82.01"/>
<line x1="473.00" y1="82.01" x2="477.00" y2="82.01"/>
<line x1="402.20" y1="78.10" x2="404.50" y2="78.10"/>
<line x1="473.00" y1="78.10" x2="475.40" y2="78.10"/>
<line x1="402.20" y1="74.18" x2="404.50" y2="74.18"/>
<line x1="473.00" y1="74.18" x2="475.40" y2="74.18"/>
<line x1="402.20" y1="70.27" x2="404.50" y2="70.27"/>
<line x1="473.00" y1="70.27" x2="475.40" y2="70.27"/>
<line x1="402.20" y1="66.35" x2="404.50" y2="66.35"/>
<line x1="473.00" y1="66.35" x2="475.40" y2="66.35"/>
<line x1="399.50" y1="62.44" x2="404.50" y2="62.44"/>
<line x1="473.00" y1="62.44" x2="477.00" y2="62.44"/>
<line x1="402.20" y1="58.53" x2="404.50" y2="58.53"/>
<line x1="473.00" y1="58.53" x2="475.40" y2="58.53"/>
<line x1="402.20" y1="54.61" x2="404.50" y2="54.61"/>
<line x1="473.00" y1="54.61" x2="475.40" y2="54.61"/>
<line x1="402.20" y1="50.70" x2="404.50" y2="50.70"/>
<line x1="473.00" y1="50.70" x2="475.40" y2="50.70"/>
<line x1="402.20" y1="46.78" x2="404.50" y2="46.78"/>
<line x1="473.00" y1="46.78" x2="475.40" y2="46.78"/>
<line x1="399.50" y1="42.87" x2="404.50" y2="42.87"/>
<line x1="473.00" y1="42.87" x2="477.00" y2="42.87"/>
<line x1="402.20" y1="38.96" x2="404.50" y2="38.96"/>
<line x1="473.00" y1="38.96" x2="475.40" y2="38.96"/>
<line x1="402.20" y1="35.04" x2="404.50" y2="35.04"/>
<line x1="473.00" y1="35.04" x2="475.40" y2="35.04"/>
<line x1="402.20" y1="31.13" x2="404.50" y2="31.13"/>
<line x1="473.00" y1="31.13" x2="475.40" y2="31.13"/>
<line x1="402.20" y1="27.21" x2="404.50" y2="27.21"/>
<line x1="473.00" y1="27.21" x2="475.40" y2="27.21"/>
<line x1="399.50" y1="23.30" x2="404.50" y2="23.30"/>
<line x1="473.00" y1="23.30" x2="477.00" y2="23.30"/>
<line x1="404.50" y1="219.00" x2="404.50" y2="224.00"/>
<line x1="404.50" y1="18.80" x2="404.50" y2="23.30"/>
<line x1="408.41" y1="219.00" x2="408.41" y2="221.30"/>
<line x1="408.41" y1="21.30" x2="408.41" y2="23.30"/>
<line x1="412.33" y1="219.00" x2="412.33" y2="221.30"/>
<line x1="412.33" y1="21.30" x2="412.33" y2="23.30"/>
<line x1="416.24" y1="219.00" x2="416.24" y2="221.30"/>
<line x1="416.24" y1="21.30" x2="416.24" y2="23.30"/>
<line x1="420.16" y1="219.00" x2="420.16" y2="221.30"/>
<line x1="420.16" y1="21.30" x2="420.16" y2="23.30"/>
<line x1="424.07" y1="219.00" x2="424.07" y2="224.00"/>
<line x1="424.07" y1="18.80" x2="424.07" y2="23.30"/>
<line x1="427.99" y1="219.00" x2="427.99" y2="221.30"/>
<line x1="427.99" y1="21.30" x2="427.99" y2="23.30"/>
<line x1="431.90" y1="219.00" x2="431.90" y2="221.30"/>
<line x1="431.90" y1="21.30" x2="431.90" y2="23.30"/>
<line x1="435.81" y1="219.00" x2="435.81" y2="221.30"/>
<line x1="435.81" y1="21.30" x2="435.81" y2="23.30"/>
<line x1="439.73" y1="219.00" x2="439.73" y2="221.30"/>
<line x1="439.73" y1="21.30" x2="439.73" y2="23.30"/>
<line x1="443.64" y1="219.00" x2="443.64" y2="224.00"/>
<line x1="443.64" y1="18.80" x2="443.64" y2="23.30"/>
<line x1="447.56" y1="219.00" x2="447.56" y2="221.30"/>
<line x1="447.56" y1="21.30" x2="447.56" y2="23.30"/>
<line x1="451.47" y1="219.00" x2="451.47" y2="221.30"/>
<line x1="451.47" y1="21.30" x2="451.47" y2="23.30"/>
<line x1="455.39" y1="219.00" x2="455.39" y2="221.30"/>
<line x1="455.39" y1="21.30" x2="455.39" y2="23.30"/>
<line x1="459.30" y1="219.00" x2="459.30" y2="221.30"/>
<line x1="459.30" y1="21.30" x2="459.30" y2="23.30"/>
<line x1="463.21" y1="219.00" x2="463.21" y2="224.00"/>
<line x1="463.21" y1="18.80" x2="463.21" y2="23.30"/>
<line x1="467.13" y1="219.00" x2="467.13" y2="221.30"/>
<line x1="467.13" y1="21.30" x2="467.13" y2="23.30"/>
<line x1="471.04" y1="219.00" x2="471.04" y2="221.30"/>
<line x1="471.04" y1="21.30" x2="471.04" y2="23.30"/>
<line x1="473.00" y1="219.00" x2="473.00" y2="224.00"/>
<line x1="473.00" y1="18.80" x2="473.00" y2="23.30"/>
</g>
<line x1="404" y1="134.3" x2="473.5" y2="132.5" stroke="#000" stroke-width="1.7" stroke-dasharray="5.2 2.3"/>
<text x="395.4" y="223.49" font-size="11.3" text-anchor="end">0</text>
<text x="395.4" y="203.92" font-size="11.3" text-anchor="end">10,000</text>
<text x="395.4" y="184.35" font-size="11.3" text-anchor="end">20,000</text>
<text x="395.4" y="164.78" font-size="11.3" text-anchor="end">30,000</text>
<text x="395.4" y="145.21" font-size="11.3" text-anchor="end">40,000</text>
<text x="395.4" y="125.64" font-size="11.3" text-anchor="end">50,000</text>
<text x="395.4" y="106.07" font-size="11.3" text-anchor="end">60,000</text>
<text x="395.4" y="86.50" font-size="11.3" text-anchor="end">70,000</text>
<text x="395.4" y="66.93" font-size="11.3" text-anchor="end">80,000</text>
<text x="395.4" y="47.36" font-size="11.3" text-anchor="end">90,000</text>
<text x="395.4" y="27.79" font-size="11.3" text-anchor="end">100,000</text>
<text x="397.2" y="14.4" font-size="11.3" text-anchor="end">&#181;m</text>
<text x="404.2" y="235" font-size="11.3" text-anchor="middle">0</text>
<text x="452.3" y="235" font-size="11.3">35,000 &#181;m</text>
<rect x="504.7" y="37.3" width="13.6" height="178.2" fill="url(#gb)"/>
<g stroke="#333" stroke-width="0.8" fill="none">
<line x1="518.3" y1="37.3" x2="518.3" y2="215.5"/>
<line x1="504.7" y1="37.3" x2="521.3" y2="37.3"/>
<line x1="518.3" y1="215.50" x2="521.7" y2="215.50"/>
<line x1="518.3" y1="206.13" x2="520.1" y2="206.13"/>
<line x1="518.3" y1="196.75" x2="521.7" y2="196.75"/>
<line x1="518.3" y1="187.38" x2="520.1" y2="187.38"/>
<line x1="518.3" y1="178.01" x2="521.7" y2="178.01"/>
<line x1="518.3" y1="168.63" x2="520.1" y2="168.63"/>
<line x1="518.3" y1="159.26" x2="521.7" y2="159.26"/>
<line x1="518.3" y1="149.88" x2="520.1" y2="149.88"/>
<line x1="518.3" y1="140.51" x2="521.7" y2="140.51"/>
<line x1="518.3" y1="131.14" x2="520.1" y2="131.14"/>
<line x1="518.3" y1="121.76" x2="521.7" y2="121.76"/>
<line x1="518.3" y1="112.39" x2="520.1" y2="112.39"/>
<line x1="518.3" y1="103.02" x2="521.7" y2="103.02"/>
<line x1="518.3" y1="93.64" x2="520.1" y2="93.64"/>
<line x1="518.3" y1="84.27" x2="521.7" y2="84.27"/>
<line x1="518.3" y1="74.90" x2="520.1" y2="74.90"/>
<line x1="518.3" y1="65.52" x2="521.7" y2="65.52"/>
<line x1="518.3" y1="56.15" x2="520.1" y2="56.15"/>
<line x1="518.3" y1="46.78" x2="521.7" y2="46.78"/>
<line x1="518.3" y1="37.40" x2="520.1" y2="37.40"/>
</g>
<text class="sn" x="526" y="218.60" font-size="8.6">0</text>
<text class="sn" x="526" y="199.85" font-size="8.6">100</text>
<text class="sn" x="526" y="181.11" font-size="8.6">200</text>
<text class="sn" x="526" y="162.36" font-size="8.6">300</text>
<text class="sn" x="526" y="143.61" font-size="8.6">400</text>
<text class="sn" x="526" y="124.86" font-size="8.6">500</text>
<text class="sn" x="526" y="106.12" font-size="8.6">600</text>
<text class="sn" x="526" y="87.37" font-size="8.6">700</text>
<text class="sn" x="526" y="68.62" font-size="8.6">800</text>
<text class="sn" x="526" y="49.88" font-size="8.6">900</text>
<text class="sn" x="526.3" y="28.8" font-size="8">&#181;m</text>
<text class="lab" x="543.7" y="26.4"><tspan font-size="17.3">(</tspan><tspan font-size="17.3">b</tspan><tspan font-size="17.3">)</tspan></text>
<text class="lab2" x="543.7" y="26.4"><tspan font-size="17.3">(</tspan><tspan font-size="17.3">b</tspan><tspan font-size="17.3">)</tspan></text>
<!-- panel c -->
<rect x="678.1" y="18.2" width="70.8" height="200.5" fill="#808080"/>
<rect x="678.1" y="18.2" width="70.8" height="200.5" fill="#808080" filter="url(#fc)"/>
<g stroke="#141414" stroke-width="1.05" fill="none">
<rect x="678.1" y="18.2" width="70.8" height="200.5"/>
<line x1="673.10" y1="218.70" x2="678.10" y2="218.70"/>
<line x1="748.90" y1="218.70" x2="752.90" y2="218.70"/>
<line x1="675.80" y1="214.69" x2="678.10" y2="214.69"/>
<line x1="748.90" y1="214.69" x2="751.30" y2="214.69"/>
<line x1="675.80" y1="210.68" x2="678.10" y2="210.68"/>
<line x1="748.90" y1="210.68" x2="751.30" y2="210.68"/>
<line x1="675.80" y1="206.67" x2="678.10" y2="206.67"/>
<line x1="748.90" y1="206.67" x2="751.30" y2="206.67"/>
<line x1="675.80" y1="202.66" x2="678.10" y2="202.66"/>
<line x1="748.90" y1="202.66" x2="751.30" y2="202.66"/>
<line x1="673.10" y1="198.65" x2="678.10" y2="198.65"/>
<line x1="748.90" y1="198.65" x2="752.90" y2="198.65"/>
<line x1="675.80" y1="194.64" x2="678.10" y2="194.64"/>
<line x1="748.90" y1="194.64" x2="751.30" y2="194.64"/>
<line x1="675.80" y1="190.63" x2="678.10" y2="190.63"/>
<line x1="748.90" y1="190.63" x2="751.30" y2="190.63"/>
<line x1="675.80" y1="186.62" x2="678.10" y2="186.62"/>
<line x1="748.90" y1="186.62" x2="751.30" y2="186.62"/>
<line x1="675.80" y1="182.61" x2="678.10" y2="182.61"/>
<line x1="748.90" y1="182.61" x2="751.30" y2="182.61"/>
<line x1="673.10" y1="178.60" x2="678.10" y2="178.60"/>
<line x1="748.90" y1="178.60" x2="752.90" y2="178.60"/>
<line x1="675.80" y1="174.59" x2="678.10" y2="174.59"/>
<line x1="748.90" y1="174.59" x2="751.30" y2="174.59"/>
<line x1="675.80" y1="170.58" x2="678.10" y2="170.58"/>
<line x1="748.90" y1="170.58" x2="751.30" y2="170.58"/>
<line x1="675.80" y1="166.57" x2="678.10" y2="166.57"/>
<line x1="748.90" y1="166.57" x2="751.30" y2="166.57"/>
<line x1="675.80" y1="162.56" x2="678.10" y2="162.56"/>
<line x1="748.90" y1="162.56" x2="751.30" y2="162.56"/>
<line x1="673.10" y1="158.55" x2="678.10" y2="158.55"/>
<line x1="748.90" y1="158.55" x2="752.90" y2="158.55"/>
<line x1="675.80" y1="154.54" x2="678.10" y2="154.54"/>
<line x1="748.90" y1="154.54" x2="751.30" y2="154.54"/>
<line x1="675.80" y1="150.53" x2="678.10" y2="150.53"/>
<line x1="748.90" y1="150.53" x2="751.30" y2="150.53"/>
<line x1="675.80" y1="146.52" x2="678.10" y2="146.52"/>
<line x1="748.90" y1="146.52" x2="751.30" y2="146.52"/>
<line x1="675.80" y1="142.51" x2="678.10" y2="142.51"/>
<line x1="748.90" y1="142.51" x2="751.30" y2="142.51"/>
<line x1="673.10" y1="138.50" x2="678.10" y2="138.50"/>
<line x1="748.90" y1="138.50" x2="752.90" y2="138.50"/>
<line x1="675.80" y1="134.49" x2="678.10" y2="134.49"/>
<line x1="748.90" y1="134.49" x2="751.30" y2="134.49"/>
<line x1="675.80" y1="130.48" x2="678.10" y2="130.48"/>
<line x1="748.90" y1="130.48" x2="751.30" y2="130.48"/>
<line x1="675.80" y1="126.47" x2="678.10" y2="126.47"/>
<line x1="748.90" y1="126.47" x2="751.30" y2="126.47"/>
<line x1="675.80" y1="122.46" x2="678.10" y2="122.46"/>
<line x1="748.90" y1="122.46" x2="751.30" y2="122.46"/>
<line x1="673.10" y1="118.45" x2="678.10" y2="118.45"/>
<line x1="748.90" y1="118.45" x2="752.90" y2="118.45"/>
<line x1="675.80" y1="114.44" x2="678.10" y2="114.44"/>
<line x1="748.90" y1="114.44" x2="751.30" y2="114.44"/>
<line x1="675.80" y1="110.43" x2="678.10" y2="110.43"/>
<line x1="748.90" y1="110.43" x2="751.30" y2="110.43"/>
<line x1="675.80" y1="106.42" x2="678.10" y2="106.42"/>
<line x1="748.90" y1="106.42" x2="751.30" y2="106.42"/>
<line x1="675.80" y1="102.41" x2="678.10" y2="102.41"/>
<line x1="748.90" y1="102.41" x2="751.30" y2="102.41"/>
<line x1="673.10" y1="98.40" x2="678.10" y2="98.40"/>
<line x1="748.90" y1="98.40" x2="752.90" y2="98.40"/>
<line x1="675.80" y1="94.39" x2="678.10" y2="94.39"/>
<line x1="748.90" y1="94.39" x2="751.30" y2="94.39"/>
<line x1="675.80" y1="90.38" x2="678.10" y2="90.38"/>
<line x1="748.90" y1="90.38" x2="751.30" y2="90.38"/>
<line x1="675.80" y1="86.37" x2="678.10" y2="86.37"/>
<line x1="748.90" y1="86.37" x2="751.30" y2="86.37"/>
<line x1="675.80" y1="82.36" x2="678.10" y2="82.36"/>
<line x1="748.90" y1="82.36" x2="751.30" y2="82.36"/>
<line x1="673.10" y1="78.35" x2="678.10" y2="78.35"/>
<line x1="748.90" y1="78.35" x2="752.90" y2="78.35"/>
<line x1="675.80" y1="74.34" x2="678.10" y2="74.34"/>
<line x1="748.90" y1="74.34" x2="751.30" y2="74.34"/>
<line x1="675.80" y1="70.33" x2="678.10" y2="70.33"/>
<line x1="748.90" y1="70.33" x2="751.30" y2="70.33"/>
<line x1="675.80" y1="66.32" x2="678.10" y2="66.32"/>
<line x1="748.90" y1="66.32" x2="751.30" y2="66.32"/>
<line x1="675.80" y1="62.31" x2="678.10" y2="62.31"/>
<line x1="748.90" y1="62.31" x2="751.30" y2="62.31"/>
<line x1="673.10" y1="58.30" x2="678.10" y2="58.30"/>
<line x1="748.90" y1="58.30" x2="752.90" y2="58.30"/>
<line x1="675.80" y1="54.29" x2="678.10" y2="54.29"/>
<line x1="748.90" y1="54.29" x2="751.30" y2="54.29"/>
<line x1="675.80" y1="50.28" x2="678.10" y2="50.28"/>
<line x1="748.90" y1="50.28" x2="751.30" y2="50.28"/>
<line x1="675.80" y1="46.27" x2="678.10" y2="46.27"/>
<line x1="748.90" y1="46.27" x2="751.30" y2="46.27"/>
<line x1="675.80" y1="42.26" x2="678.10" y2="42.26"/>
<line x1="748.90" y1="42.26" x2="751.30" y2="42.26"/>
<line x1="673.10" y1="38.25" x2="678.10" y2="38.25"/>
<line x1="748.90" y1="38.25" x2="752.90" y2="38.25"/>
<line x1="675.80" y1="34.24" x2="678.10" y2="34.24"/>
<line x1="748.90" y1="34.24" x2="751.30" y2="34.24"/>
<line x1="675.80" y1="30.23" x2="678.10" y2="30.23"/>
<line x1="748.90" y1="30.23" x2="751.30" y2="30.23"/>
<line x1="675.80" y1="26.22" x2="678.10" y2="26.22"/>
<line x1="748.90" y1="26.22" x2="751.30" y2="26.22"/>
<line x1="675.80" y1="22.21" x2="678.10" y2="22.21"/>
<line x1="748.90" y1="22.21" x2="751.30" y2="22.21"/>
<line x1="673.10" y1="18.20" x2="678.10" y2="18.20"/>
<line x1="748.90" y1="18.20" x2="752.90" y2="18.20"/>
<line x1="678.10" y1="218.70" x2="678.10" y2="223.70"/>
<line x1="678.10" y1="13.70" x2="678.10" y2="18.20"/>
<line x1="682.15" y1="218.70" x2="682.15" y2="221.00"/>
<line x1="682.15" y1="16.20" x2="682.15" y2="18.20"/>
<line x1="686.19" y1="218.70" x2="686.19" y2="221.00"/>
<line x1="686.19" y1="16.20" x2="686.19" y2="18.20"/>
<line x1="690.24" y1="218.70" x2="690.24" y2="221.00"/>
<line x1="690.24" y1="16.20" x2="690.24" y2="18.20"/>
<line x1="694.28" y1="218.70" x2="694.28" y2="221.00"/>
<line x1="694.28" y1="16.20" x2="694.28" y2="18.20"/>
<line x1="698.33" y1="218.70" x2="698.33" y2="223.70"/>
<line x1="698.33" y1="13.70" x2="698.33" y2="18.20"/>
<line x1="702.37" y1="218.70" x2="702.37" y2="221.00"/>
<line x1="702.37" y1="16.20" x2="702.37" y2="18.20"/>
<line x1="706.42" y1="218.70" x2="706.42" y2="221.00"/>
<line x1="706.42" y1="16.20" x2="706.42" y2="18.20"/>
<line x1="710.47" y1="218.70" x2="710.47" y2="221.00"/>
<line x1="710.47" y1="16.20" x2="710.47" y2="18.20"/>
<line x1="714.51" y1="218.70" x2="714.51" y2="221.00"/>
<line x1="714.51" y1="16.20" x2="714.51" y2="18.20"/>
<line x1="718.56" y1="218.70" x2="718.56" y2="223.70"/>
<line x1="718.56" y1="13.70" x2="718.56" y2="18.20"/>
<line x1="722.60" y1="218.70" x2="722.60" y2="221.00"/>
<line x1="722.60" y1="16.20" x2="722.60" y2="18.20"/>
<line x1="726.65" y1="218.70" x2="726.65" y2="221.00"/>
<line x1="726.65" y1="16.20" x2="726.65" y2="18.20"/>
<line x1="730.69" y1="218.70" x2="730.69" y2="221.00"/>
<line x1="730.69" y1="16.20" x2="730.69" y2="18.20"/>
<line x1="734.74" y1="218.70" x2="734.74" y2="221.00"/>
<line x1="734.74" y1="16.20" x2="734.74" y2="18.20"/>
<line x1="738.79" y1="218.70" x2="738.79" y2="223.70"/>
<line x1="738.79" y1="13.70" x2="738.79" y2="18.20"/>
<line x1="742.83" y1="218.70" x2="742.83" y2="221.00"/>
<line x1="742.83" y1="16.20" x2="742.83" y2="18.20"/>
<line x1="746.88" y1="218.70" x2="746.88" y2="221.00"/>
<line x1="746.88" y1="16.20" x2="746.88" y2="18.20"/>
<line x1="748.90" y1="218.70" x2="748.90" y2="223.70"/>
<line x1="748.90" y1="13.70" x2="748.90" y2="18.20"/>
</g>
<text x="667.5" y="222.45" font-size="11.2" text-anchor="end">0</text>
<text x="667.5" y="202.40" font-size="11.2" text-anchor="end">10,000</text>
<text x="667.5" y="182.35" font-size="11.2" text-anchor="end">20,000</text>
<text x="667.5" y="162.30" font-size="11.2" text-anchor="end">30,000</text>
<text x="667.5" y="142.25" font-size="11.2" text-anchor="end">40,000</text>
<text x="667.5" y="122.20" font-size="11.2" text-anchor="end">50,000</text>
<text x="667.5" y="102.15" font-size="11.2" text-anchor="end">60,000</text>
<text x="667.5" y="82.10" font-size="11.2" text-anchor="end">70,000</text>
<text x="667.5" y="62.05" font-size="11.2" text-anchor="end">80,000</text>
<text x="667.5" y="42.00" font-size="11.2" text-anchor="end">90,000</text>
<text x="667.5" y="21.95" font-size="11.2" text-anchor="end">100,000</text>
<text x="670" y="9.7" font-size="11.2" text-anchor="end">&#181;m</text>
<text x="677.5" y="234.6" font-size="11.2" text-anchor="middle">0</text>
<text x="725.4" y="234.6" font-size="11.2">35,000 &#181;m</text>
<text x="719.2" y="203.9" font-size="8.2" text-anchor="middle" style="font-family:'Liberation Sans',sans-serif;font-weight:normal;fill:#1c1c1c;stroke:#fff;stroke-width:2px;paint-order:stroke fill;stroke-linejoin:round">10000 &#181;m</text>
<rect x="719.90" y="208" width="3.93" height="4" fill="#fff"/>
<rect x="723.83" y="208" width="3.93" height="4" fill="#000"/>
<rect x="727.76" y="208" width="3.93" height="4" fill="#fff"/>
<rect x="731.69" y="208" width="3.93" height="4" fill="#000"/>
<rect x="735.62" y="208" width="3.93" height="4" fill="#fff"/>
<text class="lab" x="759.5" y="20.7"><tspan font-size="17.3">(</tspan><tspan font-size="18.8">c</tspan><tspan font-size="17.3">)</tspan></text>
<text class="lab2" x="759.5" y="20.7"><tspan font-size="17.3">(</tspan><tspan font-size="18.8">c</tspan><tspan font-size="17.3">)</tspan></text>
<!-- panel d -->
<polygon points="180.5,302.7 185.3,303.5 189.2,306.8 193.0,310.2 196.9,307.9 200.8,304.0 204.6,298.8 207.2,297.0 209.3,293.2 212.3,295.2 214.9,298.3 218.8,297.0 223.9,293.2 229.1,289.3 234.2,287.5 238.9,288.5 243.2,288.5 245.8,293.2 248.4,300.9 251.0,307.3 253.5,312.5 256.1,320.2 257.9,325.4 261.3,331.3 263.8,331.3 266.4,338.2 269.8,347.3 272.9,348.5 275.4,351.1 277.0,344.7 278.0,337.5 279.3,338.2 280.6,346.0 282.6,352.4 287.0,352.4 290.9,351.4 294.0,352.9 296.6,353.7 300.5,351.9 304.3,351.1 308.2,349.8 310.8,347.3 313.3,344.7 316.4,340.3 319.8,341.6 323.6,339.0 326.2,335.7 328.8,330.5 331.4,324.1 333.9,316.4 336.5,313.3 339.1,315.8 342.9,319.4 346.8,321.5 350.7,320.2 353.2,319.4 357.1,322.3 361.0,327.2 364.3,331.8 367.4,333.1 371.3,329.2 373.8,324.1 377.2,320.7 381.6,320.2 385.4,319.7 389.3,321.0 393.2,325.4 397.0,329.2 399.6,330.2 402.7,327.2 406.6,322.8 410.5,318.9 413.5,313.8 416.9,308.6 419.5,307.3 422.0,300.9 424.6,294.5 427.2,288.0 429.8,287.5 432.3,289.3 434.9,288.5 437.5,291.9 440.1,298.3 442.6,302.2 445.2,306.1 447.8,308.1 450.4,313.8 452.9,316.4 455.5,319.4 458.9,320.7 462.0,317.6 465.8,316.4 469.7,315.8 473.5,312.0 476.1,313.8 479.5,317.1 483.8,317.6 487.7,317.1 491.6,315.6 494.2,317.1 496.7,321.5 500.6,324.6 503.2,325.4 507.0,324.1 510.9,321.5 512.2,319.4 515.3,317.6 517.9,320.2 520.5,324.6 524.3,328.7 528.2,330.5 532.0,331.3 535.9,330.5 539.8,329.2 543.6,327.9 546.2,329.7 549.3,331.3 552.6,330.5 556.0,329.2 559.1,325.4 561.7,320.2 563.7,318.9 566.3,321.5 569.4,327.9 572.5,333.1 575.0,337.0 577.9,341.6 581.0,344.2 583.5,344.7 586.9,342.9 590.0,339.0 593.8,333.1 597.7,327.9 601.6,321.5 605.4,317.6 609.3,316.9 613.2,313.8 617.0,309.9 620.1,307.3 623.5,306.1 628.6,305.0 634.2,303.2 637.1,305.0 639.4,307.6 639.4,364.4 180.5,364.4" fill="#e9e9e9"/>
<line x1="246.06" y1="276.8" x2="246.06" y2="364.4" stroke="#c2c2c2" stroke-width="1.1" stroke-dasharray="3.4 2.6"/>
<line x1="311.61" y1="276.8" x2="311.61" y2="364.4" stroke="#c2c2c2" stroke-width="1.1" stroke-dasharray="3.4 2.6"/>
<line x1="377.17" y1="276.8" x2="377.17" y2="364.4" stroke="#c2c2c2" stroke-width="1.1" stroke-dasharray="3.4 2.6"/>
<line x1="442.73" y1="276.8" x2="442.73" y2="364.4" stroke="#c2c2c2" stroke-width="1.1" stroke-dasharray="3.4 2.6"/>
<line x1="508.29" y1="276.8" x2="508.29" y2="364.4" stroke="#c2c2c2" stroke-width="1.1" stroke-dasharray="3.4 2.6"/>
<line x1="573.84" y1="276.8" x2="573.84" y2="364.4" stroke="#c2c2c2" stroke-width="1.1" stroke-dasharray="3.4 2.6"/>
<polyline points="180.5,302.7 185.3,303.5 189.2,306.8 193.0,310.2 196.9,307.9 200.8,304.0 204.6,298.8 207.2,297.0 209.3,293.2 212.3,295.2 214.9,298.3 218.8,297.0 223.9,293.2 229.1,289.3 234.2,287.5 238.9,288.5 243.2,288.5 245.8,293.2 248.4,300.9 251.0,307.3 253.5,312.5 256.1,320.2 257.9,325.4 261.3,331.3 263.8,331.3 266.4,338.2 269.8,347.3 272.9,348.5 275.4,351.1 277.0,344.7 278.0,337.5 279.3,338.2 280.6,346.0 282.6,352.4 287.0,352.4 290.9,351.4 294.0,352.9 296.6,353.7 300.5,351.9 304.3,351.1 308.2,349.8 310.8,347.3 313.3,344.7 316.4,340.3 319.8,341.6 323.6,339.0 326.2,335.7 328.8,330.5 331.4,324.1 333.9,316.4 336.5,313.3 339.1,315.8 342.9,319.4 346.8,321.5 350.7,320.2 353.2,319.4 357.1,322.3 361.0,327.2 364.3,331.8 367.4,333.1 371.3,329.2 373.8,324.1 377.2,320.7 381.6,320.2 385.4,319.7 389.3,321.0 393.2,325.4 397.0,329.2 399.6,330.2 402.7,327.2 406.6,322.8 410.5,318.9 413.5,313.8 416.9,308.6 419.5,307.3 422.0,300.9 424.6,294.5 427.2,288.0 429.8,287.5 432.3,289.3 434.9,288.5 437.5,291.9 440.1,298.3 442.6,302.2 445.2,306.1 447.8,308.1 450.4,313.8 452.9,316.4 455.5,319.4 458.9,320.7 462.0,317.6 465.8,316.4 469.7,315.8 473.5,312.0 476.1,313.8 479.5,317.1 483.8,317.6 487.7,317.1 491.6,315.6 494.2,317.1 496.7,321.5 500.6,324.6 503.2,325.4 507.0,324.1 510.9,321.5 512.2,319.4 515.3,317.6 517.9,320.2 520.5,324.6 524.3,328.7 528.2,330.5 532.0,331.3 535.9,330.5 539.8,329.2 543.6,327.9 546.2,329.7 549.3,331.3 552.6,330.5 556.0,329.2 559.1,325.4 561.7,320.2 563.7,318.9 566.3,321.5 569.4,327.9 572.5,333.1 575.0,337.0 577.9,341.6 581.0,344.2 583.5,344.7 586.9,342.9 590.0,339.0 593.8,333.1 597.7,327.9 601.6,321.5 605.4,317.6 609.3,316.9 613.2,313.8 617.0,309.9 620.1,307.3 623.5,306.1 628.6,305.0 634.2,303.2 637.1,305.0 639.4,307.6" fill="none" stroke="#74b3e1" stroke-width="1.15" stroke-linejoin="round"/>
<g stroke="#2a2a2a" fill="none">
<line x1="175" y1="276.8" x2="645.5" y2="276.8" stroke-width="1.3"/>
<line x1="175" y1="320.4" x2="645.5" y2="320.4" stroke-width="1.9"/>
<line x1="175" y1="364.4" x2="665.5" y2="364.4" stroke-width="1.4"/>
<line x1="180.5" y1="250" x2="180.5" y2="369" stroke-width="1.4"/>
<line x1="639.4" y1="273.5" x2="639.4" y2="369" stroke-width="1.4"/>
<path d="M175.6,265.8 Q179.4,258 180.5,249.2 Q182,258 185.8,265.8" stroke-width="1.3"/>
<path d="M650.6,359.4 Q660,362.6 666.6,364.4 Q660,366.2 650.6,369.4" stroke-width="1.3"/>
<g stroke-width="0.9">
<line x1="177.9" y1="364.20" x2="180.5" y2="364.20"/>
<line x1="639.4" y1="364.20" x2="642" y2="364.20"/>
<line x1="177.9" y1="355.44" x2="180.5" y2="355.44"/>
<line x1="639.4" y1="355.44" x2="642" y2="355.44"/>
<line x1="177.9" y1="346.68" x2="180.5" y2="346.68"/>
<line x1="639.4" y1="346.68" x2="642" y2="346.68"/>
<line x1="177.9" y1="337.92" x2="180.5" y2="337.92"/>
<line x1="639.4" y1="337.92" x2="642" y2="337.92"/>
<line x1="177.9" y1="329.16" x2="180.5" y2="329.16"/>
<line x1="639.4" y1="329.16" x2="642" y2="329.16"/>
<line x1="177.9" y1="311.64" x2="180.5" y2="311.64"/>
<line x1="639.4" y1="311.64" x2="642" y2="311.64"/>
<line x1="177.9" y1="302.88" x2="180.5" y2="302.88"/>
<line x1="639.4" y1="302.88" x2="642" y2="302.88"/>
<line x1="177.9" y1="294.12" x2="180.5" y2="294.12"/>
<line x1="639.4" y1="294.12" x2="642" y2="294.12"/>
<line x1="177.9" y1="285.36" x2="180.5" y2="285.36"/>
<line x1="639.4" y1="285.36" x2="642" y2="285.36"/>
<line x1="180.50" y1="364.4" x2="180.50" y2="370" stroke-width="1.5"/>
<line x1="180.50" y1="272.2" x2="180.50" y2="276.8" stroke-width="1.6"/>
<line x1="193.61" y1="364.4" x2="193.61" y2="366.6"/>
<line x1="193.61" y1="274.8" x2="193.61" y2="276.8"/>
<line x1="206.72" y1="364.4" x2="206.72" y2="366.6"/>
<line x1="206.72" y1="274.8" x2="206.72" y2="276.8"/>
<line x1="219.83" y1="364.4" x2="219.83" y2="366.6"/>
<line x1="219.83" y1="274.8" x2="219.83" y2="276.8"/>
<line x1="232.95" y1="364.4" x2="232.95" y2="366.6"/>
<line x1="232.95" y1="274.8" x2="232.95" y2="276.8"/>
<line x1="246.06" y1="364.4" x2="246.06" y2="370" stroke-width="1.5"/>
<line x1="246.06" y1="272.2" x2="246.06" y2="276.8" stroke-width="1.6"/>
<line x1="259.17" y1="364.4" x2="259.17" y2="366.6"/>
<line x1="259.17" y1="274.8" x2="259.17" y2="276.8"/>
<line x1="272.28" y1="364.4" x2="272.28" y2="366.6"/>
<line x1="272.28" y1="274.8" x2="272.28" y2="276.8"/>
<line x1="285.39" y1="364.4" x2="285.39" y2="366.6"/>
<line x1="285.39" y1="274.8" x2="285.39" y2="276.8"/>
<line x1="298.50" y1="364.4" x2="298.50" y2="366.6"/>
<line x1="298.50" y1="274.8" x2="298.50" y2="276.8"/>
<line x1="311.61" y1="364.4" x2="311.61" y2="370" stroke-width="1.5"/>
<line x1="311.61" y1="272.2" x2="311.61" y2="276.8" stroke-width="1.6"/>
<line x1="324.73" y1="364.4" x2="324.73" y2="366.6"/>
<line x1="324.73" y1="274.8" x2="324.73" y2="276.8"/>
<line x1="337.84" y1="364.4" x2="337.84" y2="366.6"/>
<line x1="337.84" y1="274.8" x2="337.84" y2="276.8"/>
<line x1="350.95" y1="364.4" x2="350.95" y2="366.6"/>
<line x1="350.95" y1="274.8" x2="350.95" y2="276.8"/>
<line x1="364.06" y1="364.4" x2="364.06" y2="366.6"/>
<line x1="364.06" y1="274.8" x2="364.06" y2="276.8"/>
<line x1="377.17" y1="364.4" x2="377.17" y2="370" stroke-width="1.5"/>
<line x1="377.17" y1="272.2" x2="377.17" y2="276.8" stroke-width="1.6"/>
<line x1="390.28" y1="364.4" x2="390.28" y2="366.6"/>
<line x1="390.28" y1="274.8" x2="390.28" y2="276.8"/>
<line x1="403.39" y1="364.4" x2="403.39" y2="366.6"/>
<line x1="403.39" y1="274.8" x2="403.39" y2="276.8"/>
<line x1="416.51" y1="364.4" x2="416.51" y2="366.6"/>
<line x1="416.51" y1="274.8" x2="416.51" y2="276.8"/>
<line x1="429.62" y1="364.4" x2="429.62" y2="366.6"/>
<line x1="429.62" y1="274.8" x2="429.62" y2="276.8"/>
<line x1="442.73" y1="364.4" x2="442.73" y2="370" stroke-width="1.5"/>
<line x1="442.73" y1="272.2" x2="442.73" y2="276.8" stroke-width="1.6"/>
<line x1="455.84" y1="364.4" x2="455.84" y2="366.6"/>
<line x1="455.84" y1="274.8" x2="455.84" y2="276.8"/>
<line x1="468.95" y1="364.4" x2="468.95" y2="366.6"/>
<line x1="468.95" y1="274.8" x2="468.95" y2="276.8"/>
<line x1="482.06" y1="364.4" x2="482.06" y2="366.6"/>
<line x1="482.06" y1="274.8" x2="482.06" y2="276.8"/>
<line x1="495.17" y1="364.4" x2="495.17" y2="366.6"/>
<line x1="495.17" y1="274.8" x2="495.17" y2="276.8"/>
<line x1="508.29" y1="364.4" x2="508.29" y2="370" stroke-width="1.5"/>
<line x1="508.29" y1="272.2" x2="508.29" y2="276.8" stroke-width="1.6"/>
<line x1="521.40" y1="364.4" x2="521.40" y2="366.6"/>
<line x1="521.40" y1="274.8" x2="521.40" y2="276.8"/>
<line x1="534.51" y1="364.4" x2="534.51" y2="366.6"/>
<line x1="534.51" y1="274.8" x2="534.51" y2="276.8"/>
<line x1="547.62" y1="364.4" x2="547.62" y2="366.6"/>
<line x1="547.62" y1="274.8" x2="547.62" y2="276.8"/>
<line x1="560.73" y1="364.4" x2="560.73" y2="366.6"/>
<line x1="560.73" y1="274.8" x2="560.73" y2="276.8"/>
<line x1="573.84" y1="364.4" x2="573.84" y2="370" stroke-width="1.5"/>
<line x1="573.84" y1="272.2" x2="573.84" y2="276.8" stroke-width="1.6"/>
<line x1="586.95" y1="364.4" x2="586.95" y2="366.6"/>
<line x1="586.95" y1="274.8" x2="586.95" y2="276.8"/>
<line x1="600.07" y1="364.4" x2="600.07" y2="366.6"/>
<line x1="600.07" y1="274.8" x2="600.07" y2="276.8"/>
<line x1="613.18" y1="364.4" x2="613.18" y2="366.6"/>
<line x1="613.18" y1="274.8" x2="613.18" y2="276.8"/>
<line x1="626.29" y1="364.4" x2="626.29" y2="366.6"/>
<line x1="626.29" y1="274.8" x2="626.29" y2="276.8"/>
<line x1="639.40" y1="364.4" x2="639.40" y2="370" stroke-width="1.5"/>
<line x1="639.40" y1="272.2" x2="639.40" y2="276.8" stroke-width="1.6"/>
</g></g>
<text x="168.2" y="268.2" font-size="13.4" text-anchor="end">&#181;m</text>
<text x="168.2" y="283.6" font-size="13.4" text-anchor="end">496.761</text>
<text class="sn" x="168.5" y="324.6" font-size="11.5" text-anchor="end" style="fill:#222">0</text>
<text x="168.2" y="368.9" font-size="13.4" text-anchor="end">503.239</text>
<line x1="116" y1="364.5" x2="122.8" y2="364.5" stroke="#1a1a1a" stroke-width="1"/>
<text x="180.50" y="382.3" font-size="13.4" text-anchor="middle">0</text>
<text x="246.06" y="382.3" font-size="13.4" text-anchor="middle">5000</text>
<text x="311.61" y="382.3" font-size="13.4" text-anchor="middle">10,000</text>
<text x="377.17" y="382.3" font-size="13.4" text-anchor="middle">15,000</text>
<text x="442.73" y="382.3" font-size="13.4" text-anchor="middle">20,000</text>
<text x="508.29" y="382.3" font-size="13.4" text-anchor="middle">25,000</text>
<text x="573.84" y="382.3" font-size="13.4" text-anchor="middle">30,000</text>
<text x="626.3" y="382.3" font-size="13.4">35,000 &#181;m</text>
<text class="lab" x="651.6" y="265.2"><tspan font-size="17.3">(</tspan><tspan font-size="17.3">d</tspan><tspan font-size="17.3">)</tspan></text>
<text class="lab2" x="651.6" y="265.2"><tspan font-size="17.3">(</tspan><tspan font-size="17.3">d</tspan><tspan font-size="17.3">)</tspan></text>
</svg></body></html>
